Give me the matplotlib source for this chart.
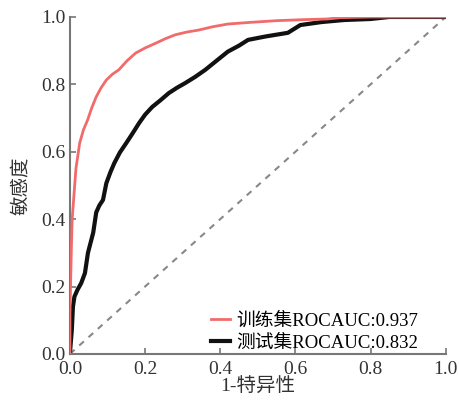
import matplotlib
matplotlib.use("Agg")
import matplotlib.pyplot as plt

plt.rcParams['font.family'] = ['Liberation Serif', 'Noto Sans CJK SC', 'DejaVu Sans']

# 训练集 ROC
train_fpr = [0.0, 0.0, 0.002, 0.004, 0.006, 0.010, 0.016, 0.026, 0.036, 0.047, 0.058,
             0.070, 0.083, 0.097, 0.113, 0.130, 0.152, 0.175, 0.200, 0.228, 0.255,
             0.280, 0.310, 0.342, 0.380, 0.420, 0.480, 0.550, 0.620, 0.684, 0.720,
             0.800, 0.900, 1.0]
train_tpr = [0.0, 0.12, 0.22, 0.32, 0.40, 0.46, 0.55, 0.626, 0.665, 0.694, 0.730,
             0.763, 0.790, 0.813, 0.830, 0.843, 0.870, 0.893, 0.908, 0.922, 0.936,
             0.947, 0.955, 0.961, 0.971, 0.979, 0.984, 0.989, 0.992, 0.994, 0.998,
             1.0, 1.0, 1.0]

# 测试集 ROC
test_fpr = [0.0, 0.002, 0.005, 0.008, 0.012, 0.020, 0.030, 0.040, 0.048, 0.055,
            0.062, 0.070, 0.078, 0.088, 0.097, 0.108, 0.118, 0.133, 0.150, 0.167,
            0.184, 0.200, 0.219, 0.240, 0.263, 0.285, 0.307, 0.333, 0.360, 0.390,
            0.420, 0.450, 0.474, 0.520, 0.580, 0.613, 0.670, 0.730, 0.800, 0.850,
            0.900, 1.0]
test_tpr = [0.0, 0.03, 0.07, 0.14, 0.17, 0.19, 0.21, 0.24, 0.30, 0.33,
            0.36, 0.42, 0.44, 0.457, 0.507, 0.540, 0.566, 0.598, 0.626, 0.655,
            0.685, 0.710, 0.733, 0.752, 0.774, 0.790, 0.804, 0.822, 0.843, 0.870,
            0.897, 0.915, 0.932, 0.942, 0.953, 0.976, 0.985, 0.991, 0.994, 1.0,
            1.0, 1.0]

ticks = [0.0, 0.2, 0.4, 0.6, 0.8, 1.0]
tick_labels = ["0.0", "0.2", "0.4", "0.6", "0.8", "1.0"]

fig = plt.figure(figsize=(4.6, 4.04), dpi=100)
ax = fig.add_axes([0.152, 0.124, 0.817, 0.834])

ax.plot([0, 1], [0, 1], color='#888888', linestyle=(0, (3, 3)), linewidth=1.5, zorder=1)
ax.plot(train_fpr, train_tpr, color='#f26b6b', linewidth=2.0, label='训练集ROCAUC:0.937', zorder=3)
ax.plot(test_fpr, test_tpr, color='#111111', linewidth=3.0, label='测试集ROCAUC:0.832', zorder=2)

ax.set_xlim(0, 1)
ax.set_ylim(0, 1)
ax.set_xticks(ticks)
ax.set_xticklabels(tick_labels)
ax.set_yticks(ticks)
ax.set_yticklabels(tick_labels)

for side in ['top', 'right']:
    ax.spines[side].set_visible(False)
for side in ['left', 'bottom']:
    ax.spines[side].set_color('#777777')
    ax.spines[side].set_linewidth(1.5)
ax.tick_params(direction='in', length=4, width=1.2, color='#777777',
               labelsize=14, labelcolor='#333333')
ax.tick_params(axis='x', pad=5)
ax.tick_params(axis='y', pad=3)

ax.set_xlabel('1-特异性', fontsize=14, color='#333333', labelpad=0)
ax.set_ylabel('敏感度', fontsize=14, color='#333333', labelpad=8)

ax.legend(loc='lower left', bbox_to_anchor=(0.37, 0.0), frameon=False, fontsize=13.5,
          handlelength=1.0, handletextpad=0.35, labelspacing=0.3,
          borderaxespad=0.0, borderpad=0.1)

fig.savefig('out.png', dpi=100)
